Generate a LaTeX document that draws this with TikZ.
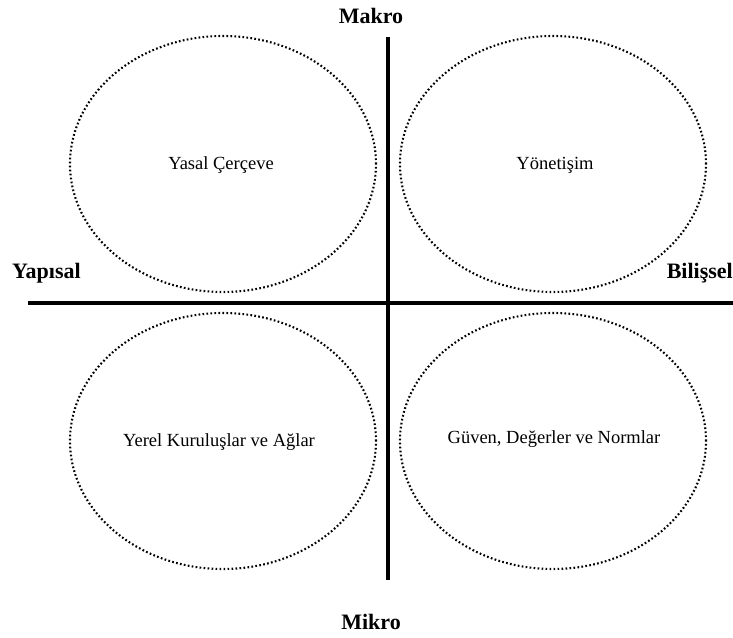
\documentclass[tikz,border=0pt]{standalone}
\usepackage{fontspec}
\setmainfont{Liberation Serif}
\usetikzlibrary{shapes.geometric}
\tikzset{
  oval/.style={ellipse, draw, line width=2.1pt, dash pattern=on 1.7pt off 2.3pt,
    minimum width=306pt, minimum height=256pt, inner sep=0pt,
    font=\fontsize{18.5}{21}\selectfont},
  innertext/.style={font=\fontsize{18.5}{21}\selectfont, inner sep=0pt},
  axislabel/.style={font=\bfseries\fontsize{22}{25}\selectfont, inner sep=0pt},
  axis/.style={line width=4pt}
}
\begin{document}
\begin{tikzpicture}[x=1pt,y=-1pt]
\useasboundingbox (0,0) rectangle (733,637);
\node[oval] (tl) at (223,164) {};
\node[oval] (tr) at (553,164) {};
\node[oval] (bl) at (223,441) {};
\node[oval] (br) at (553,441) {};
\node[innertext] (tlt) at (221,165) {Yasal Çerçeve};
\node[innertext] (trt) at (555,165) {Yönetişim};
\node[innertext] (blt) at (219,442) {Yerel Kuruluşlar ve Ağlar};
\node[innertext] (brt) at (554,439) {Güven, Değerler ve Normlar};
\coordinate (vt) at (388,37);
\coordinate (vb) at (388,580);
\coordinate (hl) at (28,303);
\coordinate (hr) at (733,303);
\draw[axis] (vt) -- (vb);
\draw[axis] (hl) -- (hr);
\node[axislabel] (makro) at (371,16) {Makro};
\node[axislabel] (mikro) at (371,622) {Mikro};
\node[axislabel, anchor=west] (yapisal) at (12,273) {Yapısal};
\node[axislabel, anchor=east] (bilissel) at (733,273) {Bilişsel};
\end{tikzpicture}
\end{document}
